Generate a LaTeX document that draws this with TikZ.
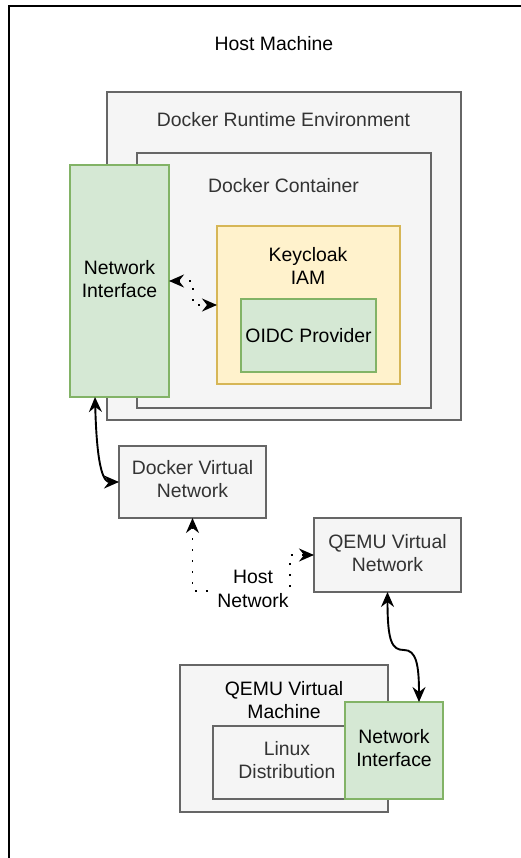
\documentclass[tikz,border=0pt]{standalone}
\usepackage{fontspec}
\setmainfont{Liberation Sans}
\usetikzlibrary{arrows.meta}
\definecolor{grayfill}{HTML}{F5F5F5}
\definecolor{graystroke}{HTML}{666666}
\definecolor{graytext}{HTML}{333333}
\definecolor{greenfill}{HTML}{D5E8D4}
\definecolor{greenstroke}{HTML}{82B366}
\definecolor{yellowfill}{HTML}{FFF2CC}
\definecolor{yellowstroke}{HTML}{D6B656}
\tikzset{
  base/.style={rectangle, inner sep=0pt, outer sep=0pt, anchor=north west, line width=1.3pt},
  hostbox/.style={base, draw=black, fill=white, line width=1.6pt},
  graybox/.style={base, draw=graystroke, fill=grayfill},
  greenbox/.style={base, draw=greenstroke, fill=greenfill},
  yellowbox/.style={base, draw=yellowstroke, fill=yellowfill},
  txt/.style={align=center, inner sep=1pt, font=\fontsize{19.4}{23.3}\selectfont, text=black},
  gtxt/.style={txt, text=graytext},
  biarrow/.style={{Stealth[length=15pt,width=13pt,inset=5pt]}-{Stealth[length=15pt,width=13pt,inset=5pt]}, line width=1.9pt, black},
  dotarrow/.style={biarrow, dash pattern=on 2pt off 9pt},
}
\begin{document}
\begin{tikzpicture}[x=1pt, y=-1pt]
\useasboundingbox (0,0) rectangle (521,858);
\clip (0,0) rectangle (521,858);
% host
\node[hostbox, minimum width=560pt, minimum height=900pt] (host) at (9,6) {};
\node[txt] (hosttxt) at (274,44) {Host Machine};
% docker runtime
\node[graybox, minimum width=354pt, minimum height=328pt] (dre) at (107,92) {};
\node[gtxt] (dretxt) at (283.5,120) {Docker Runtime Environment};
\node[graybox, minimum width=294pt, minimum height=255pt] (dc) at (137,153) {};
\node[gtxt] (dctxt) at (283.5,186) {Docker Container};
\node[yellowbox, minimum width=183pt, minimum height=158pt] (kc) at (217,226) {};
\node[txt] (kctxt) at (308,266) {Keycloak\\IAM};
\node[greenbox, minimum width=135pt, minimum height=73pt] (oidc) at (241,299) {};
\node[txt] at (oidc.center) (oidctxt) {OIDC Provider};
\node[greenbox, minimum width=99pt, minimum height=232pt] (ni) at (70,165) {};
\node[txt] at ([yshift=2pt]ni.center) (nitxt) {Network\\Interface};
% virtual networks
\node[graybox, minimum width=147pt, minimum height=72pt] (dvn) at (119,446) {};
\node[gtxt] at ([yshift=3pt]dvn.center) (dvntxt) {Docker Virtual\\Network};
\node[graybox, minimum width=147pt, minimum height=74pt] (qvn) at (314,518) {};
\node[gtxt] at ([yshift=2pt]qvn.center) (qvntxt) {QEMU Virtual\\Network};
% qemu vm
\node[graybox, minimum width=208pt, minimum height=147pt] (qvm) at (180,665) {};
\node[txt] (qvmtxt) at (284,700) {QEMU Virtual\\Machine};
\node[graybox, minimum width=148pt, minimum height=73pt] (linux) at (213,726) {};
\node[gtxt] (linuxtxt) at (287,760) {Linux\\Distribution};
\node[greenbox, minimum width=98pt, minimum height=97pt] (ni2) at (345,702) {};
\node[txt] at ([yshift=2.5pt]ni2.center) (ni2txt) {Network\\Interface};
% connectors
\draw[dotarrow] (ni.east) -- ++(24,0) |- (kc.west);
\draw[biarrow] ([xshift=-24.5pt]ni.south) .. controls +(2,78) and +(-14,0) .. (dvn.west);
\coordinate (qbend) at (404,650);
\draw[biarrow] (qvn.south) .. controls +(0,50) and +(-12,0) .. (qbend) .. controls +(12,0) and +(0,-38) .. ([xshift=25pt]ni2.north);
\coordinate (h1) at (192.5,591);
\coordinate (h2) at (290,591);
\draw[dotarrow] (dvn.south) -- (h1) -- (h2) |- (qvn.west);
\node[txt, fill=white, inner sep=0.5pt] (hostnet) at (253,589) {Host\\Network};
\end{tikzpicture}
\end{document}
